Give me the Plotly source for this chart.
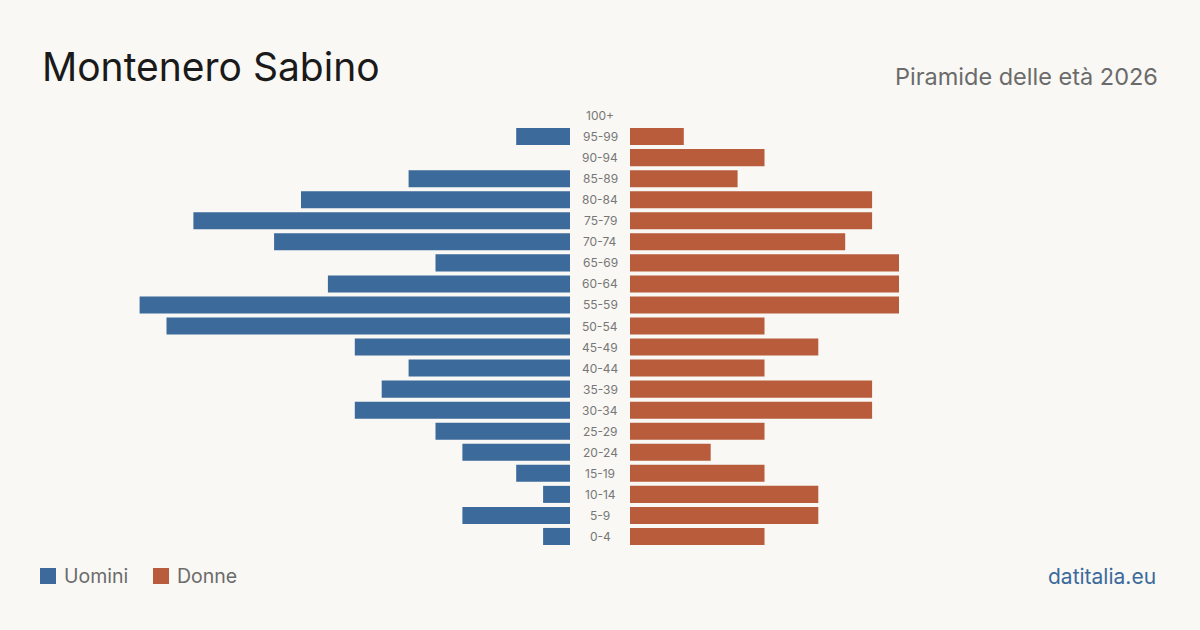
import plotly.graph_objects as go

age_groups = ["0-4", "5-9", "10-14", "15-19", "20-24", "25-29", "30-34", "35-39",
              "40-44", "45-49", "50-54", "55-59", "60-64", "65-69", "70-74",
              "75-79", "80-84", "85-89", "90-94", "95-99", "100+"]
men = [1, 4, 1, 2, 4, 5, 8, 7, 6, 8, 15, 16, 9, 5, 11, 14, 10, 6, 0, 2, 0]
women = [5, 7, 7, 5, 3, 5, 9, 9, 5, 7, 5, 10, 10, 10, 8, 9, 9, 4, 5, 2, 0]

title = "Montenero Sabino"
subtitle = "Piramide delle età 2026"
series_names = ["Uomini", "Donne"]
source = "datitalia.eu"

BLUE = "#3b6a9b"
ORANGE = "#b95c3c"
BG = "#f9f8f4"
FONT = "Inter, 'Noto Sans', sans-serif"

W, H = 1200, 630
T, B = 105, 83
PH = H - T - B


def px(x):
    return x / W


def py(y):
    return (H - B - y) / PH


fig = go.Figure()
fig.add_trace(go.Bar(y=age_groups, x=men, orientation="h", marker_color=BLUE,
                     marker_line_width=0,
                     xaxis="x", yaxis="y", name=series_names[0], showlegend=False,
                     hoverinfo="x+y"))
fig.add_trace(go.Bar(y=age_groups, x=women, orientation="h", marker_color=ORANGE,
                     marker_line_width=0,
                     xaxis="x2", yaxis="y", name=series_names[1], showlegend=False,
                     hoverinfo="x+y"))

annotations = []
for g in age_groups:
    annotations.append(dict(x=px(600), y=g, xref="paper", yref="y", text=g,
                            showarrow=False, xanchor="center", yanchor="middle",
                            font=dict(size=12, color="#777777", family=FONT)))

annotations += [
    dict(x=px(40), y=py(66), xref="paper", yref="paper", text=title, showarrow=False,
         xanchor="left", yanchor="middle", font=dict(size=39, color="#1a1a1a", family=FONT)),
    dict(x=px(1160), y=py(76), xref="paper", yref="paper", text=subtitle, showarrow=False,
         xanchor="right", yanchor="middle", font=dict(size=23.5, color="#6b6b6b", family=FONT)),
    dict(x=px(62), y=py(576), xref="paper", yref="paper", text=series_names[0], showarrow=False,
         xanchor="left", yanchor="middle", font=dict(size=19.5, color="#6b6b6b", family=FONT)),
    dict(x=px(175), y=py(576), xref="paper", yref="paper", text=series_names[1], showarrow=False,
         xanchor="left", yanchor="middle", font=dict(size=19.5, color="#6b6b6b", family=FONT)),
    dict(x=px(1158), y=py(576), xref="paper", yref="paper", text=source, showarrow=False,
         xanchor="right", yanchor="middle", font=dict(size=21, color=BLUE, family=FONT)),
]

shapes = [
    dict(type="rect", xref="paper", yref="paper", x0=px(40), x1=px(56),
         y0=py(584), y1=py(568), fillcolor=BLUE, line=dict(width=0)),
    dict(type="rect", xref="paper", yref="paper", x0=px(153), x1=px(169),
         y0=py(584), y1=py(568), fillcolor=ORANGE, line=dict(width=0)),
]

UNIT = 26.9
fig.update_layout(
    width=W, height=H,
    margin=dict(l=0, r=0, t=T, b=B),
    paper_bgcolor=BG, plot_bgcolor=BG,
    bargap=0.19,
    xaxis=dict(domain=[px(570 - 20 * UNIT), px(570)], range=[20, 0], visible=False,
               showgrid=False, zeroline=False, fixedrange=True),
    xaxis2=dict(domain=[px(630), px(630 + 20 * UNIT)], range=[0, 20], visible=False,
                showgrid=False, zeroline=False, fixedrange=True),
    yaxis=dict(categoryorder="array", categoryarray=age_groups, range=[-0.5, 20.5],
               visible=False, showgrid=False, zeroline=False, fixedrange=True),
    annotations=annotations,
    shapes=shapes,
    font=dict(family=FONT),
)

fig.write_html("out.html")
